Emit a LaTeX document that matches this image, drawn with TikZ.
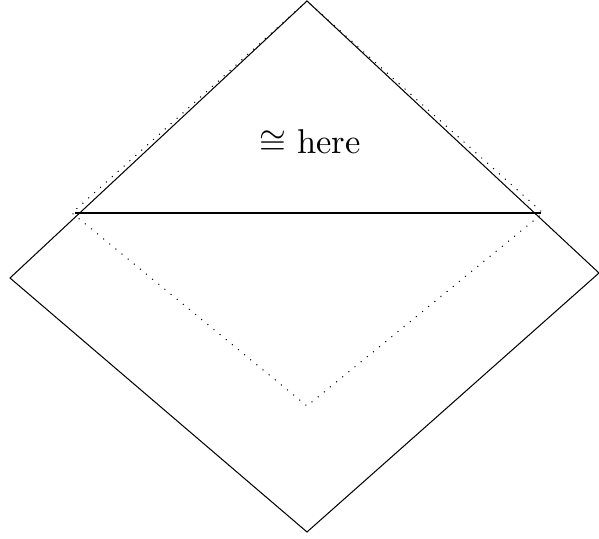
\documentclass[tikz,border=0pt]{standalone}
\begin{document}
\begin{tikzpicture}[x=0.29pt,y=-0.29pt,
  edge/.style={draw=black,line width=0.3pt},
  dot/.style={draw=black,line width=0.3pt,dotted}]
\useasboundingbox (0,0) rectangle (599,539);
\coordinate (T) at (307,1);
\coordinate (L) at (10,278);
\coordinate (B) at (307,532);
\coordinate (R) at (599,273);
\coordinate (DL) at (72,213);
\coordinate (DR) at (543,213);
\coordinate (DB) at (307,406);
\coordinate (HL) at (75,213);
\coordinate (HR) at (541,213);
\draw[edge] (T) -- (L) -- (B) -- (R) -- cycle;
\draw[dot] (T) -- (DL) -- (DB) -- (DR) -- cycle;
\draw[edge] (HL) -- (HR);
\node (lab) at (310,142) {$\cong$ here};
\end{tikzpicture}
\end{document}
